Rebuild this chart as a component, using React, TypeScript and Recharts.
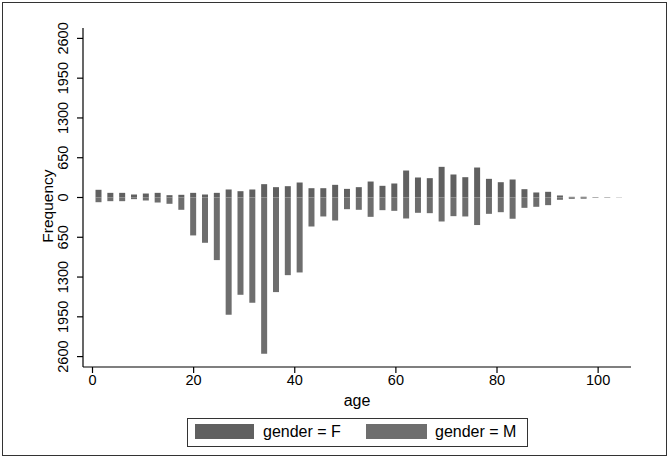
import { Bar, BarChart, Label, XAxis, YAxis } from "recharts";

// bin centres (age) and counts
const ageBins = [
  1.17, 3.51, 5.85, 8.19, 10.53, 12.87, 15.21, 17.55, 19.89, 22.23, 24.57, 26.91, 29.25, 31.59, 33.93,
  36.27, 38.61, 40.95, 43.29, 45.63, 47.97, 50.31, 52.65, 54.99, 57.33, 59.67, 62.01, 64.35, 66.69,
  69.03, 71.37, 73.71, 76.05, 78.39, 80.73, 83.07, 85.41, 87.75, 90.09, 92.43, 94.77, 97.11, 99.45,
  101.79, 104.13,
];
const femaleCounts = [
  126, 76, 76, 49, 65, 76, 38, 44, 76, 49, 76, 131, 103, 131, 218, 169, 185, 245, 152, 152, 207, 141,
  169, 261, 191, 229, 441, 327, 316, 501, 376, 332, 490, 305, 250, 294, 136, 82, 93, 33, 11, 12, 5, 4, 2,
];
const maleCounts = [
  77, 60, 60, 27, 49, 82, 103, 201, 620, 740, 1023, 1916, 1590, 1720, 2553, 1546, 1269, 1225, 474, 310,
  376, 191, 201, 316, 207, 218, 343, 250, 256, 392, 305, 310, 450, 267, 240, 348, 169, 152, 125, 38, 22,
  20, 5, 4, 2,
];
const xTicks = [0, 20, 40, 60, 80, 100];
const yTicks = [-2600, -1950, -1300, -650, 0, 650, 1300, 1950, 2600];

const FEMALE = "#606060";
const MALE = "#6e6e6e";
const NARROW = "'Liberation Sans Narrow', 'Arial Narrow', 'Liberation Sans', Arial, sans-serif";
const SANS = "'Liberation Sans', Arial, Helvetica, sans-serif";

const data = ageBins.map((age, i) => ({ age, F: femaleCounts[i], M: -maleCounts[i] }));

function YTick({ y, payload }: any) {
  const cx = 63;
  return (
    <text
      x={cx}
      y={y}
      transform={`rotate(-90 ${cx} ${y})`}
      textAnchor="middle"
      dominantBaseline="central"
      fontFamily={NARROW}
      fontSize={14.5}
      fill="#000"
    >
      {Math.abs(payload.value)}
    </text>
  );
}

export default function App() {
  return (
    <div style={{ position: "absolute", left: 0, top: 0, width: 669, height: 458, background: "#fff" }}>
      <div
        style={{
          position: "absolute",
          left: 2,
          top: 2,
          width: 663,
          height: 452,
          border: "1.5px solid #333",
        }}
      />
      <BarChart
        width={669}
        height={458}
        data={data}
        stackOffset="sign"
        margin={{ top: 28, right: 38, bottom: 41, left: 23 }}
        style={{ position: "absolute", left: 0, top: 0 }}
      >
        <XAxis
          dataKey="age"
          type="number"
          domain={[-1.88, 106.5]}
          allowDataOverflow
          ticks={xTicks}
          height={50}
          tickSize={6}
          tickMargin={2}
          axisLine={{ stroke: "#000", strokeWidth: 1.2 }}
          tickLine={{ stroke: "#000", strokeWidth: 1.2 }}
          tick={{ fill: "#000", fontSize: 14.5, fontFamily: NARROW }}
        >
          <Label
            content={() => (
              <text x={357} y={406} textAnchor="middle" fontFamily={SANS} fontSize={16} fill="#000">
                age
              </text>
            )}
          />
        </XAxis>
        <YAxis
          type="number"
          domain={[-2770, 2770]}
          allowDataOverflow
          ticks={yTicks}
          width={60}
          tickSize={6}
          axisLine={{ stroke: "#000", strokeWidth: 1.2 }}
          tickLine={{ stroke: "#000", strokeWidth: 1.2 }}
          tick={<YTick />}
        >
          <Label
            content={() => (
              <text
                x={47}
                y={206}
                transform="rotate(-90 47 206)"
                textAnchor="middle"
                dominantBaseline="central"
                fontFamily={SANS}
                fontSize={15.5}
                fill="#000"
              >
                Frequency
              </text>
            )}
          />
        </YAxis>
        <Bar dataKey="F" stackId="g" fill={FEMALE} barSize={6} isAnimationActive={false} />
        <Bar dataKey="M" stackId="g" fill={MALE} barSize={6} isAnimationActive={false} />
      </BarChart>
      <div
        style={{
          position: "absolute",
          left: 187,
          top: 418,
          width: 339,
          height: 27,
          border: "1px solid #333",
          fontFamily: SANS,
          fontSize: 16,
          color: "#000",
        }}
      >
        <div style={{ position: "absolute", left: 7, top: 5, width: 59, height: 15, background: FEMALE }} />
        <div style={{ position: "absolute", left: 75, top: 3, lineHeight: "20px" }}>gender = F</div>
        <div style={{ position: "absolute", left: 178, top: 5, width: 61, height: 15, background: MALE }} />
        <div style={{ position: "absolute", left: 247, top: 3, lineHeight: "20px" }}>gender = M</div>
      </div>
    </div>
  );
}
